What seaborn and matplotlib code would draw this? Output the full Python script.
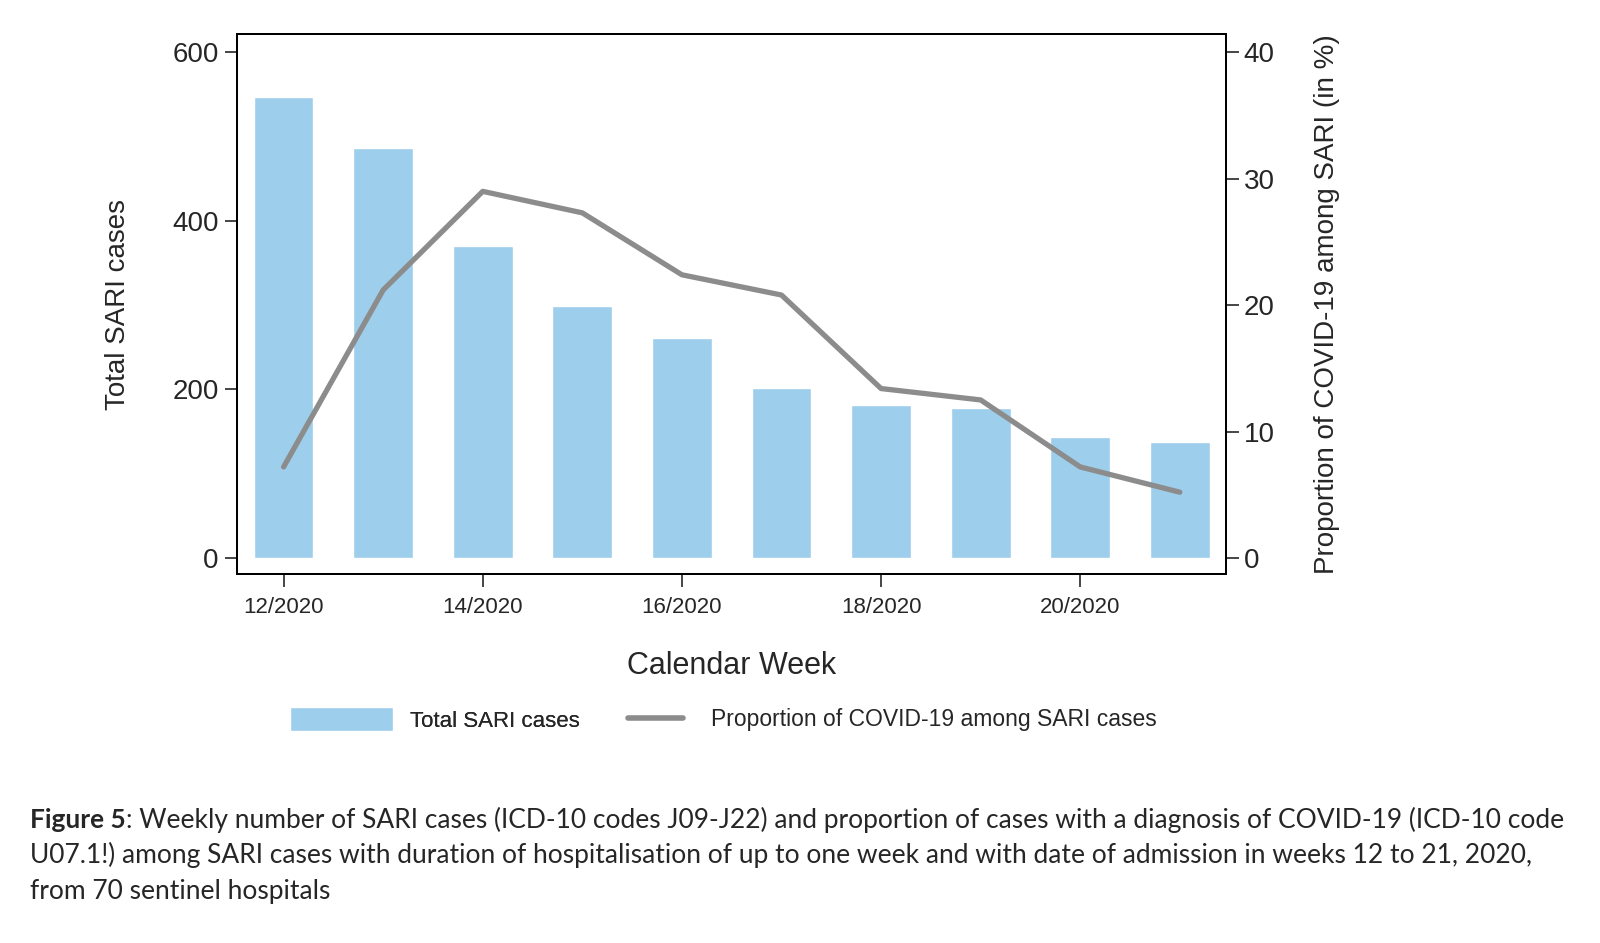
import numpy as np
import pandas as pd
import matplotlib.pyplot as plt
from matplotlib.patches import Patch
from matplotlib.lines import Line2D
import seaborn as sns

sns.set_theme(style="white")
plt.rcParams['font.family'] = ['Liberation Sans', 'DejaVu Sans']

# data
weeks = [12, 13, 14, 15, 16, 17, 18, 19, 20, 21]
sari_cases = [547, 486, 370, 299, 261, 202, 181, 178, 143, 138]
covid_share = [7.2, 21.2, 29.0, 27.3, 22.4, 20.8, 13.4, 12.5, 7.2, 5.2]
tick_weeks = [12, 14, 16, 18, 20]
tick_labels = [f"{w}/2020" for w in tick_weeks]

df = pd.DataFrame({'week': weeks, 'cases': sari_cases, 'share': covid_share})

bar_color = '#9DCEEC'
line_color = '#8C8C8C'

fig = plt.figure(figsize=(16, 9.43), dpi=100)
ax = fig.add_axes([0.148, 0.391, 0.618, 0.573])

sns.barplot(data=df, x='week', y='cases', native_scale=True, width=0.6,
            color=bar_color, saturation=1, ax=ax)
ax.set_xlim(11.53, 21.46)
ax.set_ylim(-19.4, 621.8)
ax.set_yticks([0, 200, 400, 600])
ax.set_xticks(tick_weeks)
ax.set_xticklabels(tick_labels, fontsize=16)
ax.tick_params(axis='y', labelsize=20, length=9, width=1.2, direction='out', left=True, pad=4)
ax.tick_params(axis='x', length=9, width=1.2, direction='out', bottom=True, pad=7)
ax.set_xlabel('Calendar Week', fontsize=22, labelpad=24)
ax.set_ylabel('Total SARI cases', fontsize=20, labelpad=30)

ax2 = ax.twinx()
sns.lineplot(data=df, x='week', y='share', color=line_color, linewidth=3.8,
             ax=ax2, legend=False)
ax2.set_ylim(-19.4 / 15, 621.8 / 15)
ax2.set_yticks([0, 10, 20, 30, 40])
ax2.tick_params(axis='y', labelsize=20, length=9, width=1.2, direction='out', right=True, pad=4)
ax2.set_ylabel('Proportion of COVID-19 among SARI (in %)', fontsize=20, labelpad=28)
ax2.set_xlabel('')

for a in (ax, ax2):
    for s in a.spines.values():
        s.set_color('black')
        s.set_linewidth(1.4)

# legend: two pieces so the bar patch can be wider than the line handle
leg1 = fig.legend([Patch(facecolor=bar_color)], ['Total SARI cases'],
                  loc='center left', bbox_to_anchor=(0.176, 0.237), frameon=False,
                  fontsize=16, handlelength=4.6, handleheight=1.3, borderaxespad=0)
leg2 = fig.legend([Line2D([], [], color=line_color, linewidth=4)],
                  ['Proportion of COVID-19 among SARI cases'],
                  loc='center left', bbox_to_anchor=(0.387, 0.237), frameon=False,
                  fontsize=16.5, handlelength=2.4, handletextpad=1.2, borderaxespad=0)
fig.add_artist(leg1)

# caption
cap_font = ['Lato', 'DejaVu Sans']
cap_size = 19.0
fig.canvas.draw()
renderer = fig.canvas.get_renderer()
t_bold = fig.text(0.019, 0.122, 'Figure 5', fontsize=cap_size, fontweight='bold',
                  family=cap_font, va='baseline')
bb = t_bold.get_window_extent(renderer)
x_after = bb.x1 / fig.bbox.width
fig.text(x_after, 0.122, ': Weekly number of SARI cases (ICD-10 codes J09-J22) and proportion of cases '
         'with a diagnosis of COVID-19 (ICD-10 code', fontsize=cap_size, family=cap_font, va='baseline')
fig.text(0.019, 0.085, 'U07.1!) among SARI cases with duration of hospitalisation of up to one week and '
         'with date of admission in weeks 12 to 21, 2020,', fontsize=cap_size, family=cap_font, va='baseline')
fig.text(0.019, 0.047, 'from 70 sentinel hospitals', fontsize=cap_size, family=cap_font, va='baseline')

plt.savefig('out.png', dpi=100)
plt.close()
